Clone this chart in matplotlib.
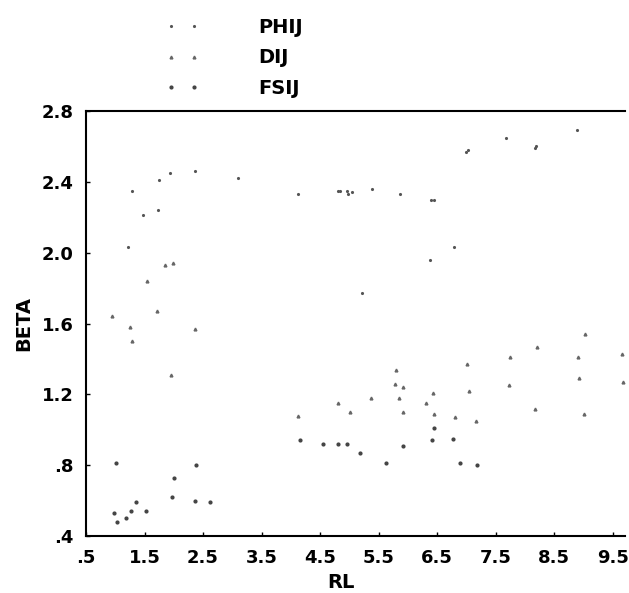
import matplotlib.pyplot as plt
from matplotlib.ticker import FixedLocator, FuncFormatter

# Données (RL, BETA)
rl_phij = [1.22, 1.29, 1.47, 1.73, 1.75, 1.94, 2.36, 3.10, 4.12, 4.81, 4.84, 4.96, 4.98,
           5.05, 5.39, 5.87, 6.40, 6.45, 7.00, 7.03, 7.68, 8.17, 8.19, 8.89, 6.79, 6.38, 5.22]
beta_phij = [2.03, 2.35, 2.21, 2.24, 2.41, 2.45, 2.46, 2.42, 2.33, 2.35, 2.35, 2.35, 2.33,
             2.34, 2.36, 2.33, 2.30, 2.30, 2.57, 2.58, 2.65, 2.59, 2.60, 2.69, 2.03, 1.96, 1.77]

rl_dij = [0.94, 1.25, 1.29, 1.54, 1.71, 1.85, 1.99, 2.36, 1.95, 4.12, 4.81, 5.01, 5.37,
          5.78, 5.80, 5.85, 5.92, 6.31, 6.43, 7.01, 7.05, 7.73, 7.74, 8.18, 8.21, 8.91,
          8.93, 9.03, 9.66, 9.68, 5.92, 6.45, 9.01, 6.81, 7.17]
beta_dij = [1.64, 1.58, 1.50, 1.84, 1.67, 1.93, 1.94, 1.57, 1.31, 1.08, 1.15, 1.10, 1.18,
            1.26, 1.34, 1.18, 1.24, 1.15, 1.21, 1.37, 1.22, 1.25, 1.41, 1.12, 1.47, 1.41,
            1.29, 1.54, 1.43, 1.27, 1.10, 1.09, 1.09, 1.07, 1.05]

rl_fsij = [2.00, 1.97, 1.35, 1.27, 1.53, 0.98, 1.03, 1.18, 2.36, 2.62, 1.01, 2.38, 4.16,
           4.55, 4.81, 4.96, 5.18, 5.63, 5.92, 6.41, 6.45, 6.77, 6.89, 7.18]
beta_fsij = [0.73, 0.62, 0.59, 0.54, 0.54, 0.53, 0.48, 0.50, 0.60, 0.59, 0.81, 0.80, 0.94,
             0.92, 0.92, 0.92, 0.87, 0.81, 0.91, 0.94, 1.01, 0.95, 0.81, 0.80]

x_ticks = [0.5, 1.5, 2.5, 3.5, 4.5, 5.5, 6.5, 7.5, 8.5, 9.5]
y_ticks = [0.4, 0.8, 1.2, 1.6, 2.0, 2.4, 2.8]

plt.rcParams["font.family"] = ["DejaVu Sans"]
plt.rcParams["font.weight"] = "bold"

fig = plt.figure(figsize=(6.29, 5.93), dpi=100)
ax = fig.add_axes([0.1367, 0.0961, 0.857, 0.7167])

ax.plot(rl_phij, beta_phij, linestyle="none", marker=".", markersize=2.5, color="#555555", label="PHIJ")
ax.plot(rl_dij, beta_dij, linestyle="none", marker="^", markersize=2, color="#666666", label="DIJ")
ax.plot(rl_fsij, beta_fsij, linestyle="none", marker="o", markersize=2, color="#444444", label="FSIJ")

ax.set_xlim(0.5, 9.71)
ax.set_ylim(0.4, 2.8)
ax.xaxis.set_major_locator(FixedLocator(x_ticks))
ax.yaxis.set_major_locator(FixedLocator(y_ticks))


def fmt(v, pos):
    s = f"{v:.1f}"
    return s[1:] if s.startswith("0") else s


ax.xaxis.set_major_formatter(FuncFormatter(fmt))
ax.yaxis.set_major_formatter(FuncFormatter(fmt))
ax.tick_params(direction="in", length=3, width=1, labelsize=13, pad=9)
ax.spines["right"].set_visible(False)
for sp in ["left", "bottom", "top"]:
    ax.spines[sp].set_linewidth(1.5)

ax.set_xlabel("RL", fontsize=14, fontweight="bold")
ax.xaxis.set_label_coords(0.473, -0.088)
ax.set_ylabel("BETA", fontsize=14, fontweight="bold")
ax.yaxis.set_label_coords(-0.098, 0.5)

fig.legend(loc="upper left", bbox_to_anchor=(165 / 629, 0.97), frameon=False,
           numpoints=2, handlelength=1.8, handletextpad=3.0, labelspacing=0.6,
           borderpad=0, borderaxespad=0, prop={"weight": "bold", "size": 14})

fig.savefig("out.png", dpi=100)
